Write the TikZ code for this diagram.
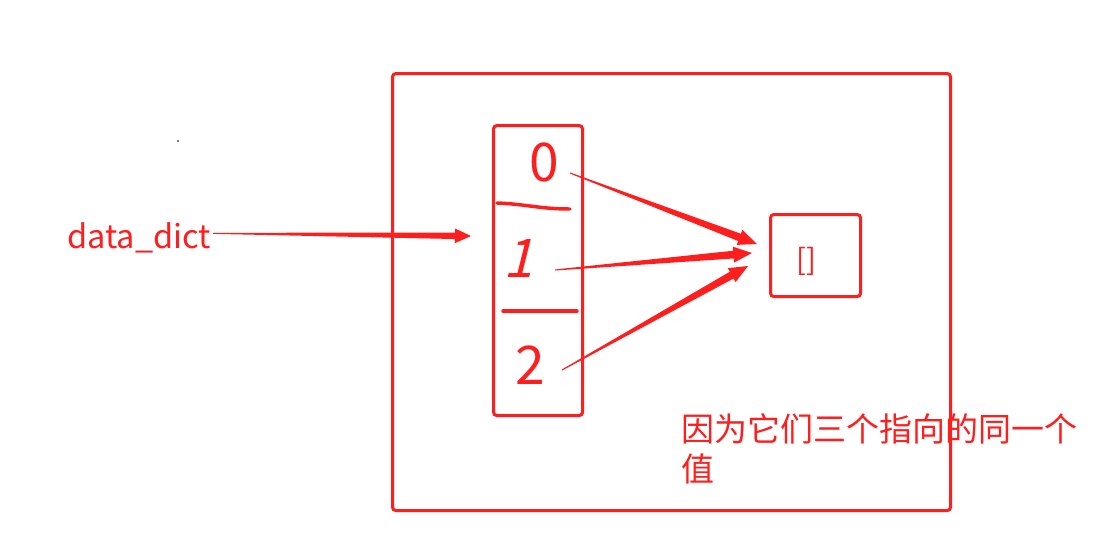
\documentclass[tikz,border=0pt]{standalone}
\usepackage{fontspec}
\setmainfont{Noto Sans CJK SC}
\usetikzlibrary{calc}
\definecolor{pen}{RGB}{255,30,30}
\tikzset{
  box/.style={draw=pen, line width=2.3pt, rounded corners=2.5pt, inner sep=0pt, anchor=north west},
  penline/.style={draw=pen, line width=2.6pt, line cap=round},
  lbl/.style={text=pen, inner sep=0pt},
  digit/.style={text=pen, inner sep=0pt, font=\fontsize{40pt}{40pt}\selectfont},
}
% tapered brush arrow: #1 from, #2 to, #3 shaft half width, #4 head length, #5 head half width
\newcommand\brusharrow[5]{%
  \coordinate (hb) at ($(#2)!#4!(#1)$);
  \fill[pen] ($(#1)!0.4pt!90:(#2)$) -- ($(hb)!#3!90:(#2)$) -- ($(hb)!#5!90:(#2)$) -- (#2)
    -- ($(hb)!#5!-90:(#2)$) -- ($(hb)!#3!-90:(#2)$) -- ($(#1)!0.4pt!-90:(#2)$) -- cycle;
}
\begin{document}
\begin{tikzpicture}[x=0.75pt,y=-0.75pt]
\useasboundingbox (0,0) rectangle (1115,543);
% containers
\node[box, minimum width=418.5pt, minimum height=327.75pt] (outer) at (391,72) {};
\node[box, minimum width=66.75pt, minimum height=217.5pt] (col) at (492,124) {};
\node[box, minimum width=67.5pt, minimum height=61.5pt] (val) at (769,213) {};
\node[lbl, font=\fontsize{22pt}{22pt}\selectfont] (empty) at (806,261) {[]};
% dividers
\draw[penline] (497,203) .. controls (525,204) and (540,209) .. (570,209);
\draw[penline] (503,311) -- (577,311);
% digits
\node[digit] (d0) at (544,162) {0};
\node[digit, xslant=0.25] (d1) at (523,258) {1};
\node[digit] (d2) at (530,365) {2};
% label
\node[lbl, anchor=base west, font=\fontsize{24.4pt}{24.4pt}\selectfont] (dd) at (67,248) {data\_dict};
\coordinate (ddtip) at (471,236);
\coordinate (s0) at (570,173);
\coordinate (t0) at (757,244);
\coordinate (s1) at (555,270);
\coordinate (t1) at (752,253);
\coordinate (s2) at (562,370);
\coordinate (t2) at (748,266);
\coordinate (ddstart) at ($(dd.east)+(2,-4)$);
\brusharrow{ddstart}{ddtip}{2.4pt}{12pt}{5.5pt}
\brusharrow{s0}{t0}{2.9pt}{14pt}{6pt}
\brusharrow{s1}{t1}{2.9pt}{14pt}{6pt}
\brusharrow{s2}{t2}{2.9pt}{14pt}{6pt}
% note
\node[lbl, anchor=base west, font=\fontsize{24.75pt}{24.75pt}\selectfont] (note1) at (681,441) {因为它们三个指向的同一个};
\node[lbl, anchor=base west, font=\fontsize{24.75pt}{24.75pt}\selectfont] (note2) at (681,481) {值};
% stray dot
\fill[black] (178,141) circle (0.7pt);
\end{tikzpicture}
\end{document}
